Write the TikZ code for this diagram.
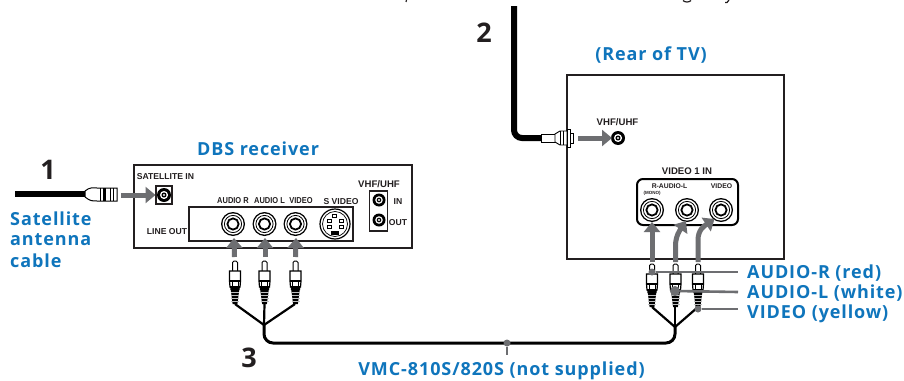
\documentclass[tikz,border=0pt]{standalone}
\usepackage{fontspec}
\setmainfont{Liberation Sans}
\newfontfamily\bluefont[LetterSpace=5]{Open Sans}
\newfontfamily\numfont{Open Sans}
\newfontfamily\narrowfont[FakeStretch=.87]{Liberation Sans}
\usetikzlibrary{arrows.meta}
\definecolor{bluelab}{HTML}{0F75BC}
\definecolor{greyarr}{HTML}{6D6E71}
\definecolor{inkdark}{HTML}{231F20}
\tikzset{
  x=1pt,y=-1pt,
  bluelabel/.style={font=\bluefont\fontsize{18}{20}\selectfont\bfseries,text=bluelab,inner sep=0pt},
  numlabel/.style={font=\numfont\fontsize{27}{30}\selectfont\bfseries,text=inkdark,inner sep=0pt},
  small/.style={font=\fontsize{8.6}{9}\selectfont\bfseries,text=inkdark,inner sep=0pt},
  smallwide/.style={font=\fontsize{9.6}{10}\selectfont\bfseries,text=inkdark,inner sep=0pt},
  smallnarrow/.style={font=\narrowfont\fontsize{8.6}{9}\selectfont\bfseries,text=inkdark,inner sep=0pt},
  panel/.style={draw=inkdark,line width=1.2pt},
  cablethick/.style={draw=black,line width=6pt},
  cablethin/.style={draw=black,line width=2.2pt},
  flow/.style={draw=greyarr,line width=5pt,-{Triangle[width=16pt,length=10pt]}},
  leader/.style={draw=greyarr,line width=2.6pt},
  leaddot/.style={circle,fill=greyarr,minimum size=7pt,inner sep=0pt},
}
\newcommand\rcajack[2]{%
  \fill[black] (#1,#2) circle (12);
  \fill[white] (#1,#2) circle (10.6);
  \draw[black,line width=.8pt] (#1,#2) circle (8.6);
  \draw[black,line width=1.8pt,fill=white] (#1,#2) circle (5.6);
}
\newcommand\coaxjack[3]{%
  \fill[black] (#1,#2) circle (#3);
  \fill[white] (#1,#2) circle (#3*0.58);
  \fill[black] (#1,#2) circle (#3*0.36);
  \fill[white] (#1,#2) circle (#3*0.17);
}
\newcommand\rcaplug[2]{%
  \begin{scope}[shift={(#1,#2)}]
    \draw[black,line width=1pt,fill=white,rounded corners=1.5pt] (-2.5,11)--(-2.5,1)--(2.5,1)--(2.5,11);
    \draw[black,line width=1.2pt,fill=white] (-5.5,11)--(5.5,11)--(5.5,21)--(5,27)--(-5,27)--(-5.5,21)--cycle;
    \fill[black] (-5.5,19.5) rectangle (5.5,21.5);
    \draw[black,line width=.9pt,fill=white] (-3,21.5) rectangle (3,26);
    \fill[black] (-5,26)--(5,26)--(4.5,30)--(-4.5,30)--cycle;
    \fill[black] (-4.2,30)--(4.2,30)--(2.4,44)--(-2.4,44)--cycle;
    \foreach \q in {32.5,35.5,38.5,41.5}{\draw[greyarr!45!white,line width=1pt] (-4,\q)--(4,\q);}
  \end{scope}%
}
\begin{document}
\begin{tikzpicture}
\useasboundingbox (0,0) rectangle (904,380);
\fill[white] (0,0) rectangle (904,380);

% clipped descenders of the cut-off line at the top edge
\draw[inkdark,line width=1.2pt] (406.5,0)--(406,2);
\draw[inkdark,line width=1.2pt] (683,0.5) .. controls (685,2.5) and (689,2.5) .. (691,0.5);
\draw[inkdark,line width=1.2pt] (729,0)--(727,2.5)--(725,2.5);

% ---------- DBS receiver
\node[bluelabel] (dbslab) at (258,149) {DBS receiver};
\node[panel,draw,minimum width=278pt,minimum height=83pt,inner sep=0pt] (dbs) at (273,206.5) {};
\node[panel,draw,minimum width=164pt,minimum height=34pt,inner sep=0pt] (lineout) at (271,224) {};
\node[panel,draw,minimum width=16pt,minimum height=18pt,inner sep=0pt] (satbox) at (164,195) {};
\node[panel,draw,minimum width=17.5pt,minimum height=40pt,inner sep=0pt] (vhfbox) at (378.5,211) {};
\node[small] (satlab) at (165.5,177) {SATELLITE IN};
\node[smallnarrow] (audr) at (233,201) {AUDIO R};
\node[smallnarrow] (audl) at (269.5,201) {AUDIO L};
\node[smallnarrow] (vidl) at (301,201) {VIDEO};
\node[small] (svid) at (341,202) {S VIDEO};
\node[smallwide] (vhfl) at (379,184) {VHF/UHF};
\node[small] (inl) at (398,201.5) {IN};
\node[small] (outl) at (398,222.5) {OUT};
\node[small] (linel) at (167,232) {LINE OUT};

\coordinate (jsat) at (164,195);
\rcajack{233}{224}\rcajack{264.5}{224}\rcajack{295.5}{224}
\coordinate (ja) at (234,236);
\coordinate (jb) at (265,236);
\coordinate (jc) at (296,236);
\coaxjack{164}{195}{7}
\coaxjack{379}{200}{6.5}
\coaxjack{379}{220}{6.5}
% S video
\draw[black,line width=1.2pt,fill=white] (335,224) circle (15);
\draw[black,line width=.7pt] (335,224) circle (12.5);
\foreach \a/\b in {332.5/214,327/219.5,339/219.5,327/225.5,339/225.5}{\draw[black,line width=.7pt] (\a,\b) rectangle ++(4,3);}
\fill[black] (331,231) rectangle (339,235);

% ---------- cable 1
\coordinate (c1start) at (15,194);
\coordinate (c1end) at (86,194);
\draw[cablethick] (c1start) -- (c1end);
\draw[black,line width=1pt,fill=white] (85,191) .. controls (90,187) and (92,188) .. (97,188) -- (117,188) -- (117,201) -- (97,201) .. controls (92,201) and (90,201) .. (85,197) -- cycle;
\foreach \q in {100,103,110,113}{\draw[black,line width=.8pt] (\q,188)--(\q,201);}
\fill[black] (103,188) rectangle (106,201);
\coordinate (c1tip) at (121,195);
\draw[flow] (c1tip) -- (155.5,195);

\node[numlabel] (n1) at (48,170) {1};
\node[bluelabel,anchor=west] (sat1) at (10,219) {Satellite};
\node[bluelabel,anchor=west] (sat2) at (10,240) {antenna};
\node[bluelabel,anchor=west] (sat3) at (10,261) {cable};

% ---------- plugs left
\coordinate (pa) at (234.5,257);
\coordinate (pb) at (265,257);
\coordinate (pc) at (295.5,257);
\draw[flow] (pa) -- (ja |- 0,238);
\draw[flow] (pb) -- (jb |- 0,238);
\draw[flow] (pc) -- (jc |- 0,238);
\coordinate (ljoin) at (264,325);
\coordinate (lc) at (235,304);
\coordinate (lm) at (264.5,304);
\coordinate (lr) at (295,304);
\draw[cablethin] (lc) -- (ljoin);
\draw[cablethin] (lm) -- (ljoin);
\draw[cablethin] (lr) -- (ljoin);
\rcaplug{235}{260}\rcaplug{264.5}{260}\rcaplug{295.5}{260}

% ---------- main cable
\coordinate (rjoin) at (675,327);
\draw[black,line width=3pt,rounded corners=9pt] (ljoin) -- (264,343) -- (675,343) -- (rjoin);

% ---------- TV
\node[bluelabel] (rear) at (651,55) {(Rear of TV)};
\node[panel,draw,minimum width=217pt,minimum height=184pt,inner sep=0pt] (tv) at (675.5,167) {};
\node[smallwide] (tvvhf) at (617.5,122) {VHF/UHF};
\coaxjack{618}{138}{7}
\node[smallwide] (v1in) at (687,171) {VIDEO 1 IN};
\node[draw=black,line width=2pt,rounded corners=6pt,minimum width=101pt,minimum height=46pt,inner sep=0pt] (v1box) at (687.5,202) {};
\node[small,font=\fontsize{6.8}{7}\selectfont\bfseries] (ral) at (669.5,186) {R-AUDIO-L};
\node[small,font=\fontsize{6.8}{7}\selectfont\bfseries] (vl2) at (721.5,186) {VIDEO};
\node[small,font=\fontsize{4.5}{5}\selectfont\bfseries] (mono) at (652,193.5) {(MONO)};
\rcajack{652}{210}\rcajack{687}{210}\rcajack{721}{210}

% ---------- cable 2
\coordinate (c2top) at (514,6);
\coordinate (c2end) at (542,138);
\draw[cablethick,rounded corners=8pt] (c2top) -- (514,138) -- (c2end);
\draw[black,line width=.9pt,fill=white] (541,134) rectangle (555,142);
\draw[black,line width=.9pt,fill=white] (555,134) -- (560,131) -- (567,131) -- (567,145) -- (560,145) -- (555,142) -- cycle;
\draw[black,line width=.9pt,fill=white] (567,129) rectangle (570.5,147);
\draw[black,line width=.9pt,fill=white] (570.5,133) rectangle (573,143);
\draw[black,line width=.7pt] (560,131)--(560,145) (563,131)--(563,145);
\coordinate (c2tip) at (578,138);
\draw[flow] (c2tip) -- (612,138);
\node[numlabel] (n2) at (484,33) {2};

% ---------- plugs right
\coordinate (qa) at (652,262);
\coordinate (qb) at (675.5,262);
\coordinate (qc) at (698,262);
\draw[flow] (qa) -- (652,222);
\draw[flow] (qb) -- (675.5,246) .. controls (675.5,236) and (680,230) .. (686,221);
\draw[flow] (qc) -- (698,240) .. controls (698,230) and (704,226) .. (714.5,219);
\coordinate (rc) at (652,307);
\coordinate (rm) at (675,307);
\coordinate (rr) at (698,307);
\draw[cablethin] (rc) -- (rjoin);
\draw[cablethin] (rm) -- (rjoin);
\draw[cablethin] (rr) -- (rjoin);
\rcaplug{652}{263}\rcaplug{675.5}{263}\rcaplug{698}{263}

% ---------- labels right
\node[bluelabel,anchor=west] (lr1) at (747,273) {AUDIO-R (red)};
\node[bluelabel,anchor=west] (lr2) at (747,293) {AUDIO-L (white)};
\node[bluelabel,anchor=west] (lr3) at (747,314) {VIDEO (yellow)};
\node[leaddot] (d1) at (652,272) {};
\node[leaddot,minimum size=10pt] (d2) at (675,291) {};
\node[leaddot] (d3) at (698,309) {};
\coordinate (e1) at (738,272);
\coordinate (e2) at (738,292);
\coordinate (e3) at (738,309);
\draw[leader] (d1) -- (e1);
\draw[leader] (d2) -- (e2);
\draw[leader] (d3) -- (e3);

% ---------- bottom
\node[numlabel] (n3) at (249,358) {3};
\node[leaddot] (d4) at (507,343) {};
\coordinate (e4) at (507,355);
\draw[leader] (d4) -- (e4);
\node[bluelabel] (vmc) at (501.5,371) {VMC-810S/820S (not supplied)};
\end{tikzpicture}
\end{document}
